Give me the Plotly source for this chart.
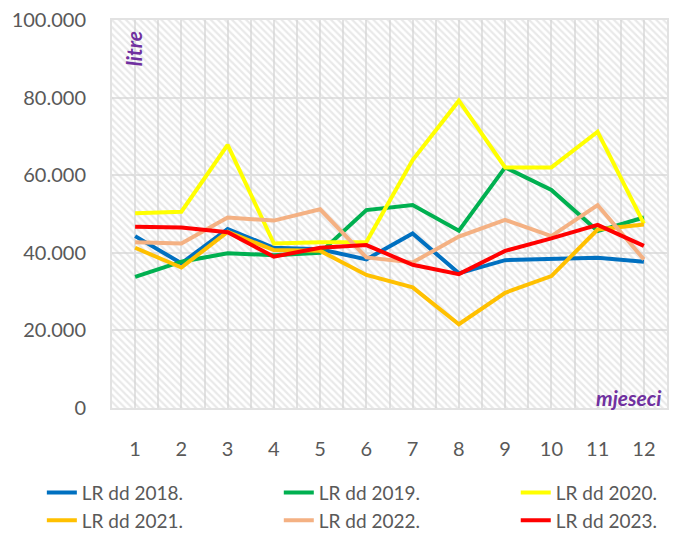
import plotly.graph_objects as go

months = list(range(1, 13))
month_labels = [str(m) for m in months]

series_names = ["LR dd 2018.", "LR dd 2019.", "LR dd 2020.", "LR dd 2021.", "LR dd 2022.", "LR dd 2023."]
lr_2018 = [44300, 37300, 46100, 41300, 40900, 38300, 45000, 34700, 38100, 38300, 38700, 37700]
lr_2019 = [33800, 37700, 39900, 39400, 40000, 51000, 52300, 45700, 62000, 56200, 45600, 49100]
lr_2020 = [50200, 50600, 67800, 42400, 42700, 42800, 63900, 79200, 62000, 62000, 71200, 47500]
lr_2021 = [41300, 36200, 45400, 40700, 40500, 34300, 31100, 21600, 29700, 34000, 46000, 47300]
lr_2022 = [42700, 42400, 49100, 48300, 51200, 38800, 37500, 44200, 48500, 44300, 52300, 38300]
lr_2023 = [46700, 46500, 45300, 39000, 41300, 42000, 36900, 34500, 40500, 43700, 47200, 41800]
series_values = [lr_2018, lr_2019, lr_2020, lr_2021, lr_2022, lr_2023]
colors = ["#0070C0", "#00B050", "#FFFF00", "#FFC000", "#F4B183", "#FF0000"]
legend_ids = ["legend", "legend2", "legend3", "legend", "legend2", "legend3"]

y_ticks = [0, 20000, 40000, 60000, 80000, 100000]
X_RANGE = [0.5, 12.5]
Y_RANGE = [0, 100000]

FONT = "Lato"
GRID = "#E2E2E2"
TXT = "#595959"

fig = go.Figure()

# hatched plot-area background
fig.add_trace(go.Scatter(
    x=[X_RANGE[0], X_RANGE[1], X_RANGE[1], X_RANGE[0], X_RANGE[0]],
    y=[Y_RANGE[0], Y_RANGE[0], Y_RANGE[1], Y_RANGE[1], Y_RANGE[0]],
    mode="lines", line=dict(width=0), fill="toself",
    fillcolor="rgba(0,0,0,0)",
    fillpattern=dict(shape="\\", fgcolor="#D3D3D3", bgcolor="rgba(255,255,255,0)",
                     size=5, solidity=0.45),
    hoverinfo="skip", showlegend=False))

for name, vals, col, lg in zip(series_names, series_values, colors, legend_ids):
    fig.add_trace(go.Scatter(x=months, y=vals, name=name, mode="lines", legend=lg,
                             line=dict(color=col, width=4)))

def legend_box(xpos):
    return dict(orientation="v", xref="container", yref="container",
                x=xpos, y=0.113, xanchor="left", yanchor="top",
                font=dict(family=FONT, size=19, color=TXT),
                traceorder="normal", itemwidth=30, bgcolor="rgba(0,0,0,0)")

fig.update_layout(
    width=677, height=525,
    margin=dict(l=104, r=18, t=12, b=125, autoexpand=False),
    paper_bgcolor="white", plot_bgcolor="white",
    separators=",.",
    font=dict(family=FONT, color=TXT, size=20),
    showlegend=True,
    legend=legend_box(0.050),
    legend2=legend_box(0.400),
    legend3=legend_box(0.750),
    xaxis=dict(range=X_RANGE, tickmode="array", tickvals=months, ticktext=month_labels,
               showgrid=True, gridcolor=GRID, gridwidth=2, automargin=False,
               minor=dict(tick0=0.5, dtick=1, showgrid=True, gridcolor=GRID, gridwidth=2),
               zeroline=False, showline=True, linecolor=GRID, linewidth=2, mirror=True,
               ticks="", ticklabelstandoff=22, ticklabeloverflow="allow",
               tickfont=dict(size=20)),
    yaxis=dict(range=Y_RANGE, tickmode="array", tickvals=y_ticks, tickformat=",d",
               showgrid=True, gridcolor=GRID, gridwidth=2, automargin=False,
               zeroline=False, showline=True, linecolor=GRID, linewidth=2, mirror=True,
               ticks="", ticklabelstandoff=20, ticklabeloverflow="allow",
               tickfont=dict(size=20)),
    annotations=[
        dict(text="<b><i>litre</i></b>", xref="paper", yref="paper", x=0.038, y=0.925,
             xanchor="center", yanchor="middle",
             showarrow=False, textangle=-90, font=dict(family=FONT, size=21, color="#7030A0")),
        dict(text="<b><i>mjeseci</i></b>", xref="paper", yref="paper", x=0.995, y=0.028,
             xanchor="right", yanchor="middle", showarrow=False,
             font=dict(family=FONT, size=21, color="#7030A0")),
    ],
)

fig.write_html("out.html")
